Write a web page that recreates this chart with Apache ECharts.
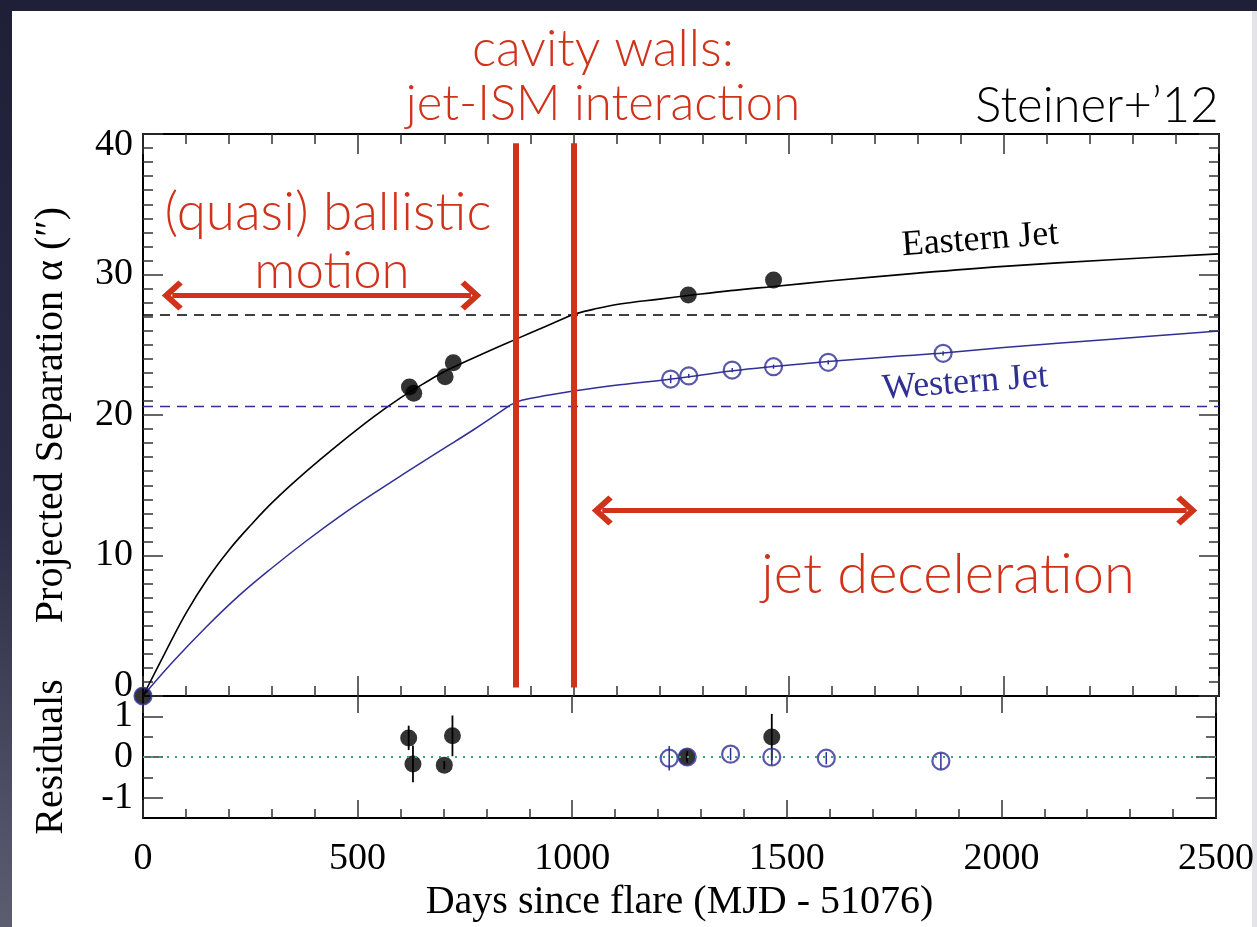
<!DOCTYPE html>
<html><head><meta charset="utf-8">
<script src="https://cdn.jsdelivr.net/npm/echarts@6/dist/echarts.min.js"></script>
<style>
html,body{margin:0;padding:0;width:1257px;height:927px;overflow:hidden;background:linear-gradient(180deg,#1f1f38 0%,#2b2b45 55%,#5d5d72 100%);}
#panel{position:absolute;left:12px;top:11px;width:1240px;height:916px;background:#fff;}
#strip{position:absolute;left:1252px;top:11px;width:5px;height:916px;background:#e4e4e8;}
#chart{position:absolute;left:0;top:0;width:1257px;height:927px;}
</style></head><body>
<div id="panel"></div><div id="strip"></div><div id="chart"></div>
<script>
// ---- measured data ----
const eastDays = [0, 619, 629, 702, 721, 1267, 1465];
const eastSep  = [0, 22.0, 21.55, 22.73, 23.72, 28.54, 29.6];
const westDays = [0, 1226, 1268, 1369, 1465, 1592, 1859];
const westSep  = [0, 22.56, 22.78, 23.2, 23.44, 23.75, 24.39];
const westSepErr = [0, 0.3, 0.15, 0.15, 0.15, 0.15, 0.15];

const eastResDays = [619, 629, 702, 721, 1267, 1465];
const eastRes     = [0.47, -0.17, -0.2, 0.52, 0.0, 0.49];
const eastResErr  = [0.3, 0.45, 0.1, 0.5, 0.1, 0.57];
const westResDays = [1226, 1268, 1369, 1465, 1592, 1859];
const westRes     = [-0.03, 0.0, 0.07, 0.0, -0.03, -0.1];
const westResErr  = [0.3, 0.15, 0.15, 0.2, 0.15, 0.2];

// ---- model curves ----
const eastModelDaysA = [0, 50, 100, 150, 200, 250, 303, 380, 458, 535, 600, 650, 711, 800, 867, 935, 1000];
const eastModelSepA  = [0, 3.0, 5.9, 8.35, 10.4, 12.15, 13.85, 16.0, 18.0, 19.85, 21.25, 22.2, 23.25, 24.5, 25.4, 26.3, 27.17];
const eastModelDaysB = [1000, 1046, 1108, 1200, 1267, 1365, 1465, 1600, 1800, 2000, 2250, 2500];
const eastModelSepB  = [27.17, 27.52, 27.9, 28.25, 28.5, 28.85, 29.15, 29.55, 30.1, 30.58, 31.05, 31.47];
const westModelDaysA = [0, 70, 148, 225, 303, 380, 458, 535, 613, 690, 768, 853];
const westModelSepA  = [0, 2.45, 4.95, 7.2, 9.2, 11.05, 12.8, 14.4, 15.95, 17.45, 18.95, 20.7];
const westModelDaysB = [853, 880, 940, 1000, 1108, 1228, 1371, 1465, 1592, 1759, 1859, 2000, 2250, 2500];
const westModelSepB  = [20.7, 21.05, 21.4, 21.7, 22.15, 22.56, 23.15, 23.45, 23.8, 24.2, 24.42, 24.8, 25.4, 25.98];

// ---- reference levels / annotations ----
const eastLevel = 27.17;
const westLevel = 20.64;
const wallDays = [867, 1001];
const wallRange = [0.6, 39.35];
const ballisticArrow = { y: 28.5, from: 68, to: 762 };
const decelArrow = { y: 13.2, from: 1067, to: 2425 };

const xTickLabels = ['0', '500', '1000', '1500', '2000', '2500'];

const zip = (a, b) => a.map((v, i) => [v, b[i]]);
const SERIF = 'Liberation Serif';
const RED = '#d0321a';
const BLUE = '#2f2f96';
const TICK = '#333';
const REDFONT = 'Lato, "Liberation Sans"';
const ZWNJ = '\u200C';

const chevron = 'path://M15,0 L30,15 L26,19 L15,8 L4,19 L0,15 Z';

function errBars(days, vals, errs, color, xi, yi, w) {
  return {
    type: 'custom', xAxisIndex: xi, yAxisIndex: yi, silent: true, z: 3,
    data: days.map((d, i) => [d, vals[i], errs[i]]),
    renderItem: function (params, api) {
      const x = api.value(0), y = api.value(1), e = api.value(2);
      const p1 = api.coord([x, y - e]), p2 = api.coord([x, y + e]);
      return { type: 'line', shape: { x1: p1[0], y1: p1[1], x2: p2[0], y2: p2[1] },
               style: { stroke: color, lineWidth: w } };
    }
  };
}

const axLine = { show: true, onZero: false, lineStyle: { color: '#000', width: 2 } };
const xBase = {
  type: 'value', min: 0, max: 2500, interval: 500,
  splitLine: { show: false },
  axisLine: axLine,
  axisTick: { show: true, inside: true, length: 20, lineStyle: { color: TICK, width: 1.5 } },
  minorTick: { show: true, splitNumber: 5, length: 10, lineStyle: { color: TICK, width: 1.5 } },
  minorSplitLine: { show: false },
  axisLabel: { show: false }
};
const yMainBase = {
  type: 'value', min: 0, max: 40, interval: 10, gridIndex: 0,
  splitLine: { show: false },
  axisLine: axLine,
  axisTick: { show: true, inside: true, length: 20, lineStyle: { color: TICK, width: 1.5 } },
  minorTick: { show: true, splitNumber: 10, length: 10, lineStyle: { color: TICK, width: 1.5 } },
  minorSplitLine: { show: false },
  axisLabel: { show: false }
};
const yResBase = {
  type: 'value', min: -1.5, max: 1.5, gridIndex: 1,
  splitLine: { show: false },
  axisLine: axLine,
  axisTick: { show: true, inside: true, length: 20, customValues: [-1, 0, 1], lineStyle: { color: TICK, width: 1.5 } },
  axisLabel: { show: false }
};
const yResMinor = {
  type: 'value', min: -1.5, max: 1.5, gridIndex: 1,
  splitLine: { show: false },
  axisLine: { show: false, onZero: false },
  axisTick: { show: true, inside: true, length: 10, customValues: [-0.5, 0.5], lineStyle: { color: TICK, width: 1.5 } },
  axisLabel: { show: false }
};

const chart = echarts.init(document.getElementById('chart'), null, { renderer: 'canvas' });
const option = {
  animation: false,
  backgroundColor: 'transparent',
  grid: [
    { left: 143, top: 134, width: 1076, height: 562 },
    { left: 143, top: 696, width: 1076, height: 122 }
  ],
  xAxis: [
    Object.assign({}, xBase, { gridIndex: 0, position: 'bottom' }),
    Object.assign({}, xBase, { gridIndex: 0, position: 'top' }),
    Object.assign({}, xBase, {
      gridIndex: 1, position: 'bottom', axisTick: Object.assign({}, xBase.axisTick, { length: 18 }),
      minorTick: Object.assign({}, xBase.minorTick, { length: 9 }),
      axisLabel: { show: true, margin: 22, color: '#000', fontFamily: SERIF, fontSize: 38,
        formatter: (v) => xTickLabels[Math.round(v / 500)] },
      name: 'Days since flare (MJD - 51076)', nameLocation: 'middle', nameGap: 64,
      nameTextStyle: { color: '#000', fontFamily: SERIF, fontSize: 40 }
    }),
    Object.assign({}, xBase, { gridIndex: 1, position: 'top',
      axisTick: Object.assign({}, xBase.axisTick, { length: 17 }), minorTick: { show: false } })
  ],
  yAxis: [
    Object.assign({}, yMainBase, {
      position: 'left',
      axisLabel: { show: true, margin: 10, color: '#000', fontFamily: SERIF, fontSize: 38,
        formatter: (v) => v === 40 ? '{t|40}' : (v === 0 ? '{b|0}' : String(v)),
        rich: { t: { fontFamily: SERIF, fontSize: 38, color: '#000', padding: [22, 0, 0, 0] },
                b: { fontFamily: SERIF, fontSize: 38, color: '#000', padding: [0, 0, 20, 0] } } },
      name: 'Projected Separation \u03b1 (\u2033)', nameLocation: 'middle', nameRotate: 90, nameGap: 72,
      nameTextStyle: { color: '#000', fontFamily: SERIF, fontSize: 40 }
    }),
    Object.assign({}, yMainBase, { position: 'right' }),
    Object.assign({}, yResBase, {
      position: 'left',
      axisLabel: { show: true, margin: 10, color: '#000', fontFamily: SERIF, fontSize: 38, customValues: [-1, 0, 1],
        formatter: (v) => String(Math.round(v)) },
      name: 'Residuals', nameLocation: 'middle', nameRotate: 90, nameGap: 72,
      nameTextStyle: { color: '#000', fontFamily: SERIF, fontSize: 40 }
    }),
    Object.assign({}, yResBase, { position: 'right' }),
    Object.assign({}, yResMinor, { position: 'left' }),
    Object.assign({}, yResMinor, { position: 'right' })
  ],
  series: [
    { type: 'line', name: 'east model A', xAxisIndex: 0, yAxisIndex: 0, data: zip(eastModelDaysA, eastModelSepA),
      smooth: 0.4, showSymbol: false, lineStyle: { color: '#000', width: 1.6 }, z: 2,
      markLine: { silent: true, symbol: 'none', label: { show: false },
        lineStyle: { color: '#000', type: [10, 7], width: 1.5 }, data: [{ yAxis: eastLevel }] } },
    { type: 'line', name: 'east model B', xAxisIndex: 0, yAxisIndex: 0, data: zip(eastModelDaysB, eastModelSepB),
      smooth: 0.4, showSymbol: false, lineStyle: { color: '#000', width: 1.6 }, z: 2 },
    { type: 'line', name: 'west model A', xAxisIndex: 0, yAxisIndex: 0, data: zip(westModelDaysA, westModelSepA),
      smooth: 0.4, showSymbol: false, lineStyle: { color: BLUE, width: 1.5 }, z: 2,
      markLine: { silent: true, symbol: 'none', label: { show: false },
        lineStyle: { color: BLUE, type: [10, 7], width: 1.3 }, data: [{ yAxis: westLevel }] } },
    { type: 'line', name: 'west model B', xAxisIndex: 0, yAxisIndex: 0, data: zip(westModelDaysB, westModelSepB),
      smooth: 0.4, showSymbol: false, lineStyle: { color: BLUE, width: 1.5 }, z: 2 },
    { type: 'scatter', name: 'Eastern Jet', xAxisIndex: 0, yAxisIndex: 0, data: zip(eastDays, eastSep),
      symbol: 'circle', symbolSize: 17, itemStyle: { color: '#000' }, z: 4 },
    { type: 'scatter', name: 'Western Jet', xAxisIndex: 0, yAxisIndex: 0, data: zip(westDays, westSep),
      symbol: 'circle', symbolSize: 17, itemStyle: { color: 'rgba(0,0,0,0)', borderColor: BLUE, borderWidth: 2.2 }, z: 4 },
    errBars(westDays, westSep, westSepErr, BLUE, 0, 0, 1.5),
    // residuals
    errBars(eastResDays, eastRes, eastResErr, '#000', 2, 2, 1.8),
    errBars(westResDays, westRes, westResErr, BLUE, 2, 2, 1.5),
    { type: 'scatter', name: 'east res', xAxisIndex: 2, yAxisIndex: 2, data: zip(eastResDays, eastRes),
      symbol: 'circle', symbolSize: 17, itemStyle: { color: '#000' }, z: 4,
      markLine: { silent: true, symbol: 'none', label: { show: false },
        lineStyle: { color: '#3aa676', type: [2, 6], width: 2 }, data: [{ yAxis: 0 }] } },
    { type: 'scatter', name: 'west res', xAxisIndex: 2, yAxisIndex: 2, data: zip(westResDays, westRes),
      symbol: 'circle', symbolSize: 17, itemStyle: { color: 'rgba(0,0,0,0)', borderColor: BLUE, borderWidth: 2.2 }, z: 4 },
    // annotations: cavity walls and arrows
    { type: 'line', name: 'annotations', xAxisIndex: 0, yAxisIndex: 0, data: [[0, 0]], showSymbol: false,
      lineStyle: { width: 0 }, z: 6,
      markLine: { silent: true, label: { show: false }, z: 6,
        data: [
          [{ coord: [wallDays[0], wallRange[0]], symbol: 'none', lineStyle: { color: RED, width: 6, type: 'solid' } },
           { coord: [wallDays[0], wallRange[1]], symbol: 'none' }],
          [{ coord: [wallDays[1], wallRange[0]], symbol: 'none', lineStyle: { color: RED, width: 6, type: 'solid' } },
           { coord: [wallDays[1], wallRange[1]], symbol: 'none' }],
          [{ coord: [ballisticArrow.from, ballisticArrow.y], symbol: chevron, symbolSize: [30, 21],
             lineStyle: { color: RED, width: 5, type: 'solid' }, itemStyle: { color: RED } },
           { coord: [ballisticArrow.to, ballisticArrow.y], symbol: chevron, symbolSize: [30, 21], itemStyle: { color: RED } }],
          [{ coord: [decelArrow.from, decelArrow.y], symbol: chevron, symbolSize: [30, 21],
             lineStyle: { color: RED, width: 5, type: 'solid' }, itemStyle: { color: RED } },
           { coord: [decelArrow.to, decelArrow.y], symbol: chevron, symbolSize: [30, 21], itemStyle: { color: RED } }]
        ] } }
  ],
  graphic: [
    { type: 'text', x: 603, y: 50, style: { text: 'cavity walls:', fill: RED, font: '300 51px ' + REDFONT, textAlign: 'center', textVerticalAlign: 'middle' } },
    { type: 'text', x: 603, y: 104, style: { text: 'jet-ISM interac' + ZWNJ + 'tion', fill: RED, font: '300 49px ' + REDFONT, textAlign: 'center', textVerticalAlign: 'middle' } },
    { type: 'text', x: 1097, y: 106, style: { text: 'Steiner+\u201912', fill: '#000', font: '300 49px ' + REDFONT, textAlign: 'center', textVerticalAlign: 'middle' } },
    { type: 'text', x: 328, y: 213, style: { text: '(quasi) ballis' + ZWNJ + 'tic', fill: RED, font: '300 53px ' + REDFONT, textAlign: 'center', textVerticalAlign: 'middle' } },
    { type: 'text', x: 332, y: 272, style: { text: 'mo' + ZWNJ + 'tion', fill: RED, font: '300 51px ' + REDFONT, textAlign: 'center', textVerticalAlign: 'middle' } },
    { type: 'text', x: 948, y: 575, style: { text: 'jet decelera' + ZWNJ + 'tion', fill: RED, font: '300 56px ' + REDFONT, textAlign: 'center', textVerticalAlign: 'middle' } },
    { type: 'text', x: 980, y: 240, rotation: 0.075, style: { text: 'Eastern Jet', fill: '#000', font: '36px "Liberation Serif"', textAlign: 'center', textVerticalAlign: 'middle' } },
    { type: 'text', x: 965, y: 383, rotation: 0.075, style: { text: 'Western Jet', fill: BLUE, font: '36px "Liberation Serif"', textAlign: 'center', textVerticalAlign: 'middle' } }
  ]
};
chart.setOption(option);
</script>
</body></html>
